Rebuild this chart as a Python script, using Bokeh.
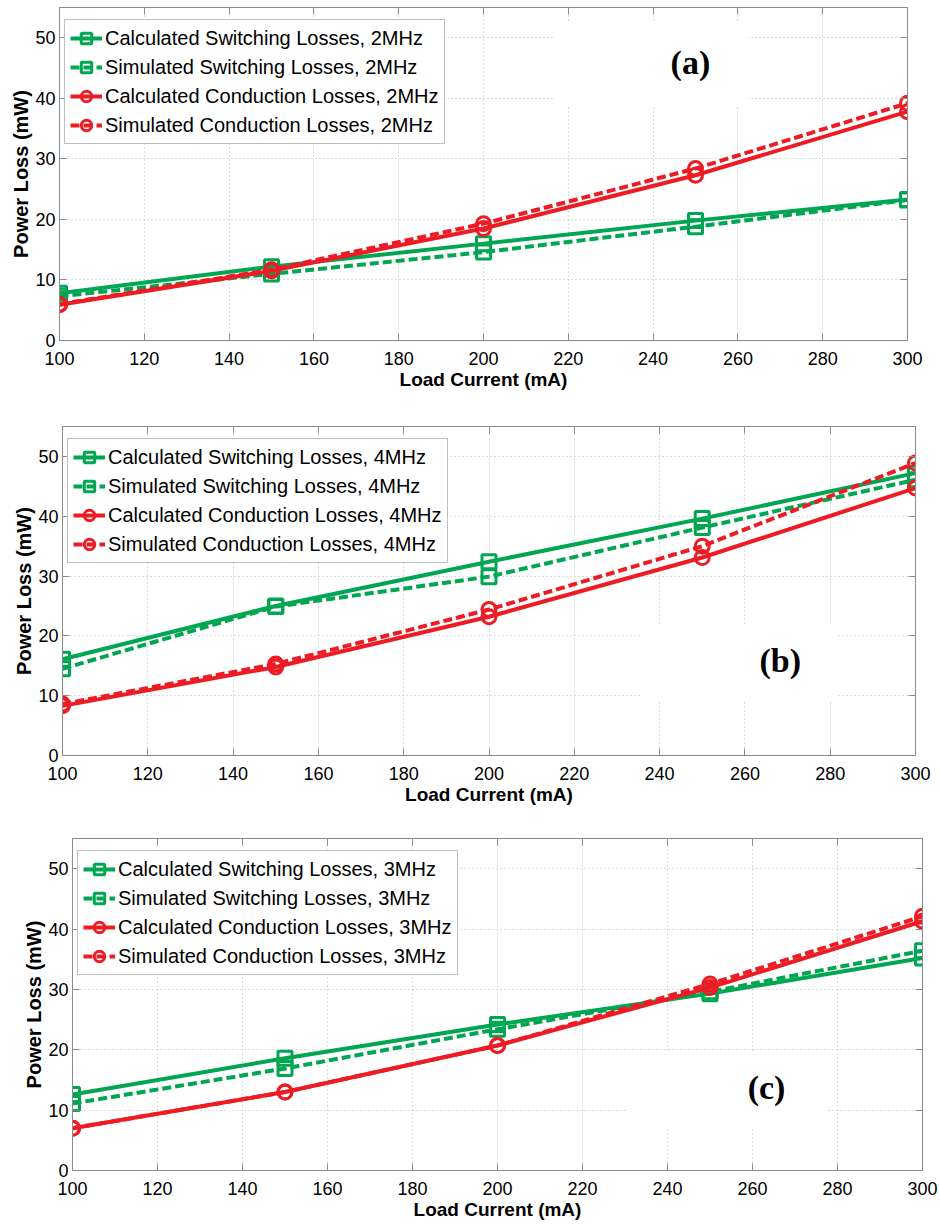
from bokeh.plotting import figure
from bokeh.models import Range1d, LinearAxis, FixedTicker, Legend, LegendItem, Label, BoxAnnotation
from bokeh.layouts import column
from bokeh.embed import file_html
from bokeh.resources import INLINE

# ---------------- data ----------------
load_current = [100, 150, 200, 250, 300]
x_ticks = [100, 120, 140, 160, 180, 200, 220, 240, 260, 280, 300]
y_ticks = [0, 10, 20, 30, 40, 50]

calc_sw_2mhz = [7.8, 12.2, 16.0, 19.8, 23.3]
sim_sw_2mhz = [7.3, 11.0, 14.6, 18.8, 23.2]
calc_cond_2mhz = [5.9, 11.5, 18.5, 27.3, 37.8]
sim_cond_2mhz = [6.0, 11.7, 19.3, 28.4, 39.2]

calc_sw_4mhz = [16.1, 25.0, 32.4, 39.6, 47.2]
sim_sw_4mhz = [14.5, 24.9, 29.9, 38.1, 46.1]
calc_cond_4mhz = [8.3, 14.8, 23.2, 33.1, 44.7]
sim_cond_4mhz = [8.6, 15.3, 24.4, 35.0, 48.9]

calc_sw_3mhz = [12.6, 18.6, 24.2, 29.3, 35.2]
sim_sw_3mhz = [11.1, 16.9, 23.4, 29.6, 36.4]
calc_cond_3mhz = [7.0, 13.0, 20.7, 30.3, 41.3]
sim_cond_3mhz = [7.0, 13.0, 20.7, 30.9, 42.1]

labels_2 = ["Calculated Switching Losses, 2MHz", "Simulated Switching Losses, 2MHz",
            "Calculated Conduction Losses, 2MHz", "Simulated Conduction Losses, 2MHz"]
labels_4 = ["Calculated Switching Losses, 4MHz", "Simulated Switching Losses, 4MHz",
            "Calculated Conduction Losses, 4MHz", "Simulated Conduction Losses, 4MHz"]
labels_3 = ["Calculated Switching Losses, 3MHz", "Simulated Switching Losses, 3MHz",
            "Calculated Conduction Losses, 3MHz", "Simulated Conduction Losses, 3MHz"]

GREEN = "#00A651"
RED = "#ED1C24"
AXC = "#8c8c8c"
SANS = "Liberation Sans"


def make_panel(series, labels, tag, tag_xy, box, width, height, bl, br, bt, bb):
    p = figure(width=width, height=height, x_range=Range1d(100, 300), y_range=Range1d(0, 55),
               output_backend="svg", toolbar_location=None,
               min_border_left=bl, min_border_right=br, min_border_top=bt, min_border_bottom=bb)
    p.frame_align = False
    p.background_fill_color = "white"
    p.border_fill_color = "white"
    p.outline_line_color = AXC

    p.xaxis.ticker = FixedTicker(ticks=x_ticks)
    p.yaxis.ticker = FixedTicker(ticks=y_ticks)
    for ax in (p.xaxis, p.yaxis):
        ax.axis_line_color = AXC
        ax.major_tick_line_color = AXC
        ax.major_tick_in = 7
        ax.major_tick_out = 0
        ax.minor_tick_line_color = None
        ax.major_label_text_font = SANS
        ax.major_label_text_font_size = "18px"
        ax.major_label_text_color = "black"
        ax.axis_label_text_font = SANS
        ax.axis_label_text_font_style = "bold"
        ax.axis_label_text_color = "black"
    p.xaxis.axis_label = "Load Current (mA)"
    p.xaxis.axis_label_text_font_size = "19px"
    p.xaxis.major_label_standoff = 11
    p.xaxis.axis_label_standoff = 1
    p.yaxis.axis_label = "Power Loss (mW)"
    p.yaxis.axis_label_text_font_size = "20px"
    p.yaxis.major_label_standoff = 4
    p.yaxis.axis_label_standoff = 0

    top = LinearAxis(ticker=FixedTicker(ticks=x_ticks), major_label_text_font_size="1px",
                     major_label_text_color=None,
                     major_label_standoff=0, axis_line_color=AXC, major_tick_line_color=AXC,
                     major_tick_in=7, major_tick_out=0, minor_tick_line_color=None)
    right = LinearAxis(ticker=FixedTicker(ticks=y_ticks), major_label_text_font_size="1px",
                       major_label_text_color=None,
                       major_label_standoff=0, axis_line_color=AXC, major_tick_line_color=AXC,
                       major_tick_in=7, major_tick_out=0, minor_tick_line_color=None)
    p.add_layout(top, "above")
    p.add_layout(right, "right")

    p.xgrid.ticker = FixedTicker(ticks=x_ticks)
    p.ygrid.ticker = FixedTicker(ticks=y_ticks)
    p.grid.grid_line_color = "#b8b8b8"
    p.grid.grid_line_dash = "1 3"
    p.grid.grid_line_width = 1

    # white background box behind the panel tag (covers grid)
    p.add_layout(BoxAnnotation(left=box[0], right=box[1], bottom=box[2], top=box[3],
                               fill_color="white", fill_alpha=1.0, line_color=None,
                               level="underlay"))

    styles = [(GREEN, "solid", "square"), (GREEN, "9 4", "square"),
              (RED, "solid", "circle"), (RED, "9 4", "circle")]
    items = []
    for ys, lab, (col, dash, mk) in zip(series, labels, styles):
        ln = p.line(load_current, ys, line_color=col, line_width=4, line_dash=dash)
        sc = p.scatter(load_current, ys, marker=mk, size=14,
                       line_color=col, line_width=3, fill_color=None)
        items.append(LegendItem(label=lab, renderers=[ln, sc]))

    frame_h = height - bt - bb
    legend = Legend(items=items, location=(5, frame_h - 12 - 125),
                    border_line_color="#808080", border_line_width=1,
                    background_fill_color="white", background_fill_alpha=1.0,
                    label_text_font=SANS, label_text_font_size="20px", label_text_color="black",
                    glyph_width=32, glyph_height=26, label_height=26, spacing=3,
                    padding=5, label_standoff=3, margin=0)
    p.add_layout(legend, "center")

    p.add_layout(Label(x=tag_xy[0], y=tag_xy[1], text=tag, text_font="Liberation Serif",
                       text_font_style="bold", text_font_size="34px", text_color="black",
                       text_align="center", text_baseline="middle"))
    return p


pa = make_panel([calc_sw_2mhz, sim_sw_2mhz, calc_cond_2mhz, sim_cond_2mhz], labels_2,
                "(a)", (248.8, 45.9), (216.5, 262.5, 38.6, 52.6),
                width=940, height=400, bl=59, br=33, bt=7, bb=60)
pb = make_panel([calc_sw_4mhz, sim_sw_4mhz, calc_cond_4mhz, sim_cond_4mhz], labels_4,
                "(b)", (268.3, 15.9), (235.5, 281.9, 9.2, 21.7),
                width=940, height=415, bl=62, br=25, bt=26, bb=60)
pc = make_panel([calc_sw_3mhz, sim_sw_3mhz, calc_cond_3mhz, sim_cond_3mhz], labels_3,
                "(c)", (263.3, 13.7), (230.8, 277.6, 7.0, 19.8),
                width=940, height=407, bl=72, br=18, bt=23, bb=52)

layout = column(pa, pb, pc, spacing=0)
open("out.html", "w").write(file_html(layout, INLINE))
